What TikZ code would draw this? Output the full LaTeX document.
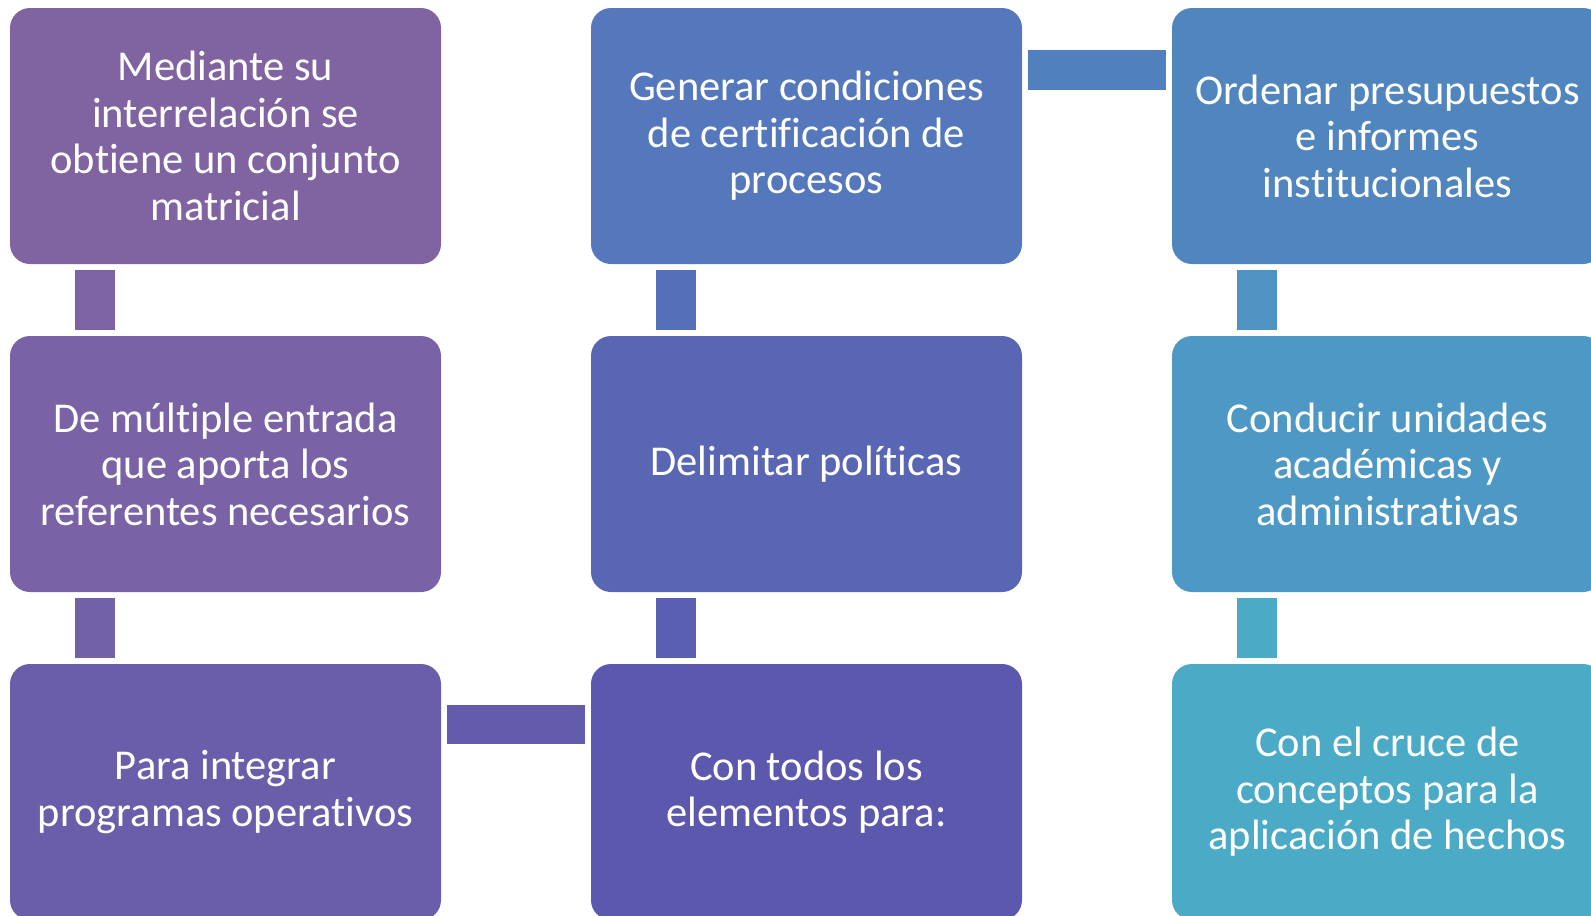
\documentclass[tikz,border=0pt]{standalone}
\usepackage{fontspec}
\setmainfont{Carlito}[Ligatures={NoCommon}]
\usetikzlibrary{calc}
\newcommand{\zk}{\kern0pt }
\definecolor{c11}{HTML}{8064A2}
\definecolor{c12}{HTML}{7962A6}
\definecolor{c13}{HTML}{6A5DAA}
\definecolor{c23}{HTML}{5B58AE}
\definecolor{c22}{HTML}{5966B4}
\definecolor{c21}{HTML}{5577BC}
\definecolor{c31}{HTML}{5085BE}
\definecolor{c32}{HTML}{4D98C4}
\definecolor{c33}{HTML}{4BABC6}
\definecolor{k1}{HTML}{7C63A4}
\definecolor{k2}{HTML}{7260A8}
\definecolor{k3}{HTML}{635BAC}
\definecolor{k4}{HTML}{5A5FB1}
\definecolor{k5}{HTML}{556FB9}
\definecolor{k6}{HTML}{5080BD}
\definecolor{k7}{HTML}{4E93C2}
\definecolor{k8}{HTML}{4BAAC6}
\tikzset{
  box/.style={fill=#1, draw=none, rounded corners=20pt, minimum width=431pt, minimum height=256pt,
    inner sep=0pt, align=center, text=white, font=\fontsize{42.5}{46.5}\selectfont},
  vconn/.style={draw=#1, line width=40pt},
  hconn/.style={draw=#1, line width=39.5pt}
}
\begin{document}
\begin{tikzpicture}
\useasboundingbox (0pt,0pt) rectangle (1591pt,-916pt);
\clip (0pt,0pt) rectangle (1591pt,-916pt);
% boxes
\node[box=c11] (n11) at (225.5pt,-136pt) {Mediante su\\interrelación se\\obt\zk iene un conjunto\\matricial};
\node[box=c12] (n12) at (225.5pt,-464pt) {De múlt\zk iple entrada\\que aporta los\\referentes necesarios};
\node[box=c13] (n13) at (225.5pt,-792pt) {Para integrar\\programas operat\zk ivos};
\node[box=c21] (n21) at (806.5pt,-136pt) {Generar condiciones\\de cert\zk if\zk icación de\\procesos};
\node[box=c22] (n22) at (806.5pt,-464pt) {Delimitar polít\zk icas};
\node[box=c23] (n23) at (806.5pt,-792pt) {Con todos los\\elementos para:};
\node[box=c31] (n31) at (1387.5pt,-136pt) {Ordenar presupuestos\\e informes\\inst\zk itucionales};
\node[box=c32] (n32) at (1387.5pt,-464pt) {Conducir unidades\\académicas y\\administrat\zk ivas};
\node[box=c33] (n33) at (1387.5pt,-792pt) {Con el cruce de\\conceptos para la\\aplicación de hechos};
% connectors
\draw[vconn=k1] ([xshift=85pt,yshift=-6pt]n11.south west) -- ([xshift=85pt,yshift=6pt]n12.north west);
\draw[vconn=k2] ([xshift=85pt,yshift=-6pt]n12.south west) -- ([xshift=85pt,yshift=6pt]n13.north west);
\draw[hconn=k3] ([xshift=6pt,yshift=-60.5pt]n13.north east) -- ([xshift=-6pt,yshift=-60.5pt]n23.north west);
\draw[vconn=k4] ([xshift=85pt,yshift=6pt]n23.north west) -- ([xshift=85pt,yshift=-6pt]n22.south west);
\draw[vconn=k5] ([xshift=85pt,yshift=6pt]n22.north west) -- ([xshift=85pt,yshift=-6pt]n21.south west);
\draw[hconn=k6] ([xshift=6pt,yshift=-62pt]n21.north east) -- ([xshift=-6pt,yshift=-62pt]n31.north west);
\draw[vconn=k7] ([xshift=85pt,yshift=-6pt]n31.south west) -- ([xshift=85pt,yshift=6pt]n32.north west);
\draw[vconn=k8] ([xshift=85pt,yshift=-6pt]n32.south west) -- ([xshift=85pt,yshift=6pt]n33.north west);
\end{tikzpicture}
\end{document}
